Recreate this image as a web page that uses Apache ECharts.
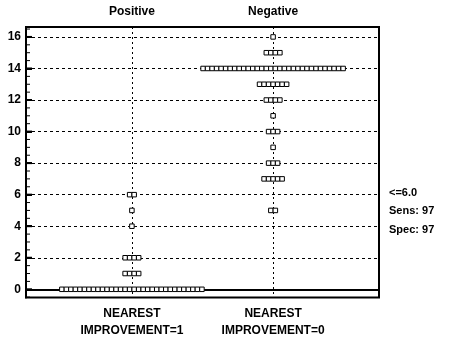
<!DOCTYPE html>
<html>
<head>
<meta charset="utf-8">
<script src="https://cdn.jsdelivr.net/npm/echarts@6/dist/echarts.min.js"></script>
<style>html,body{margin:0;padding:0;background:#fff;}#c{width:449px;height:345px;}</style>
</head>
<body>
<div id="c"></div>
<script>
const categories = ['Positive', 'Negative'];
const bottomLabels = ['NEAREST\nIMPROVEMENT=1', 'NEAREST\nIMPROVEMENT=0'];
const positiveValues = [0, 1, 2, 4, 5, 6];
const positiveCounts = [32, 4, 4, 1, 1, 2];
const negativeValues = [5, 7, 8, 9, 10, 11, 12, 13, 14, 15, 16];
const negativeCounts = [2, 5, 3, 1, 3, 1, 4, 7, 32, 4, 1];
const yTicks = [0, 2, 4, 6, 8, 10, 12, 14, 16];
const yMinorTicks = [];
for (let v = -0.5; v <= 16.5; v += 0.5) yMinorTicks.push(v);
const criterionText = ['<=6.0', 'Sens: 97', 'Spec: 97'];

const catPos = [1, 2];
const xMin = 0.25, xMax = 2.75;
const dotStep = 0.032; // horizontal spacing of stacked dots (x units)

function buildDots(center, values, counts) {
  const pts = [];
  values.forEach((v, k) => {
    const n = counts[k];
    for (let i = 0; i < n; i++) pts.push([center + (i - (n - 1) / 2) * dotStep, v]);
  });
  return pts;
}

const chart = echarts.init(document.getElementById('c'), null, {renderer: 'canvas'});
const font = 'Liberation Sans, Arial, sans-serif';
const dashed = {color: '#000', width: 1, type: [3, 3]};

const xCommon = {type: 'value', min: xMin, max: xMax, splitNumber: 1};
chart.setOption({
  animation: false,
  backgroundColor: '#fff',
  grid: {left: 26, right: 70, top: 27, bottom: 47.5, show: true, borderColor: '#000', borderWidth: 2, backgroundColor: 'transparent'},
  xAxis: [
    Object.assign({}, xCommon, {
      position: 'bottom',
      axisLine: {show: true, lineStyle: {color: '#000', width: 2}},
      axisTick: {show: false, customValues: catPos},
      splitLine: {show: true, lineStyle: {color: '#000', width: 1, type: [2, 3]}},
      axisLabel: {customValues: catPos, formatter: v => bottomLabels[Math.round(v) - 1], color: '#000', fontFamily: font, fontSize: 12, fontWeight: 'bold', lineHeight: 17, margin: 8}
    }),
    Object.assign({}, xCommon, {
      position: 'top',
      axisLine: {show: false},
      axisTick: {show: false, customValues: catPos},
      splitLine: {show: false},
      axisLabel: {customValues: catPos, formatter: v => categories[Math.round(v) - 1], color: '#000', fontFamily: font, fontSize: 12, fontWeight: 'bold', margin: 9}
    })
  ],
  yAxis: [
    {
      type: 'value', min: -0.52, max: 16.63,
      axisLine: {show: true, lineStyle: {color: '#000', width: 2}},
      axisTick: {show: true, inside: true, length: 6, customValues: yTicks, lineStyle: {color: '#000', width: 2}},
      axisLabel: {customValues: yTicks, color: '#000', fontFamily: font, fontSize: 12, fontWeight: 'bold', margin: 5},
      splitLine: {show: true, lineStyle: dashed}
    }
  ],
  graphic: criterionText.map((t, i) => ({
    type: 'text', left: 389, top: 187 + i * 18.5,
    style: {text: t, fill: '#000', font: 'bold 11px ' + font}
  })),
  series: [
    {
      type: 'custom', xAxisIndex: 0, yAxisIndex: 0,
      data: yMinorTicks.map(v => [xMin, v]),
      silent: true, clip: false, z: 4,
      renderItem: function (params, api) {
        const p = api.coord([api.value(0), api.value(1)]);
        const major = yTicks.indexOf(api.value(1)) >= 0;
        return {
          type: 'line',
          shape: {x1: p[0], y1: p[1], x2: p[0] + (major ? 6 : 4), y2: p[1]},
          style: {stroke: '#000', lineWidth: major ? 2 : 1}
        };
      }
    },
    {
      type: 'scatter', xAxisIndex: 0, yAxisIndex: 0,
      data: buildDots(catPos[0], positiveValues, positiveCounts),
      symbol: 'rect', symbolSize: [4.5, 4.5],
      itemStyle: {color: '#fff', borderColor: '#000', borderWidth: 1, opacity: 1},
      z: 5
    },
    {
      type: 'scatter', xAxisIndex: 0, yAxisIndex: 0,
      data: buildDots(catPos[1], negativeValues, negativeCounts),
      symbol: 'rect', symbolSize: [4.5, 4.5],
      itemStyle: {color: '#fff', borderColor: '#000', borderWidth: 1, opacity: 1},
      z: 5
    }
  ]
});
</script>
</body>
</html>
